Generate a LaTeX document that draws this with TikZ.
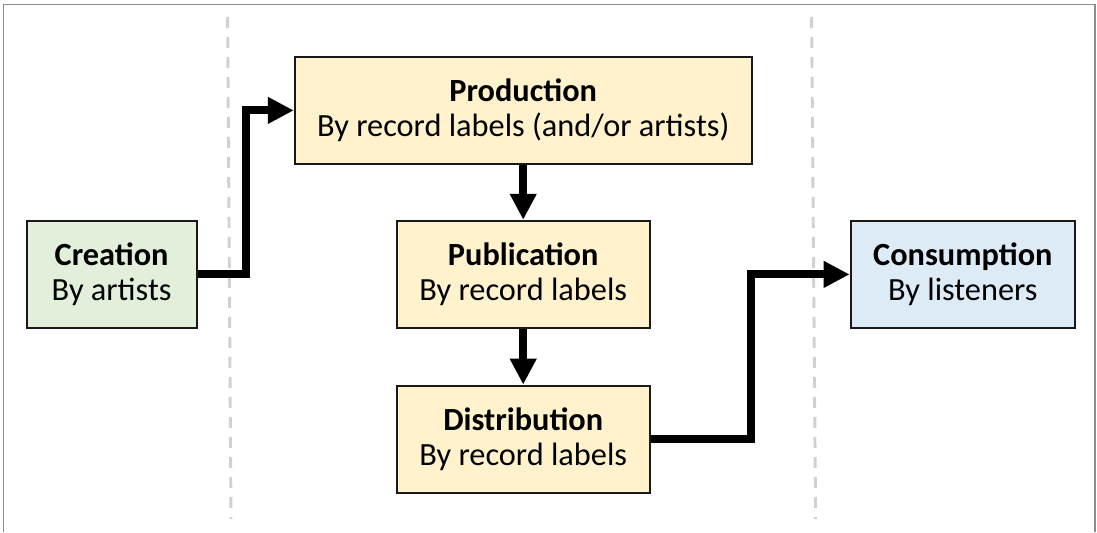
\documentclass[tikz,border=0pt]{standalone}
\usepackage{fontspec}
\setmainfont{Carlito}
\usetikzlibrary{arrows.meta,positioning}
\definecolor{stageyellow}{RGB}{255,242,204}
\definecolor{stagegreen}{RGB}{226,239,218}
\definecolor{stageblue}{RGB}{221,235,247}

\begin{document}
\begin{tikzpicture}[
    st/.style={draw=black!90, line width=1.4pt, fill=stageyellow, minimum height=2.68cm, align=center,
               font=\fontsize{23}{25}\selectfont, inner sep=0pt},
    startbox/.style={st, fill=stagegreen, minimum width=4.25cm},
    endbox/.style={st, fill=stageblue, minimum width=5.61cm},
    conn/.style={-{Triangle[length=0.65cm,width=0.63cm]}, line width=5.7pt},
    lane/.style={draw=black!18, line width=2.1pt, dash pattern=on 0.275cm off 0.225cm}
]
\useasboundingbox (0,0) rectangle (27.425,-13.3);

% --- outer frame (bottom edge lies below the picture) ---
\draw[black!45, line width=1.4pt] (0.0875,-13.3) -- (0.0875,-0.1125) -- (27.375,-0.1125) -- (27.375,-13.3);

% --- lane separators ---
\draw[lane] (5.69,-0.425) -- (5.775,-12.975);
\draw[lane] (20.29,-0.425) -- (20.39,-12.975);

% --- stages ---
\node[startbox] (cre) at (2.79, -6.86) {\textbf{Creation}\\By artists};
\node[st, minimum width=11.42cm] (prod) at (13.08, -2.76) {\textbf{Production}\\By record labels (and/or artists)};
\node[st, minimum width=6.33cm] (pub) at (13.08, -6.86) {\textbf{Publication}\\By record labels};
\node[st, minimum width=6.33cm] (dist) at (13.08, -10.98) {\textbf{Distribution}\\By record labels};
\node[endbox] (cons) at (24.07, -6.86) {\textbf{Consumption}\\By listeners};

% --- flow ---
\draw[conn] (cre.east) -- ++(1.22,0) |- (prod.west);
\draw[conn] (prod) -- (pub);
\draw[conn] (pub) -- (dist);
\draw[conn] (dist.east) -- ++(2.5,0) |- (cons.west);

\end{tikzpicture}
\end{document}
